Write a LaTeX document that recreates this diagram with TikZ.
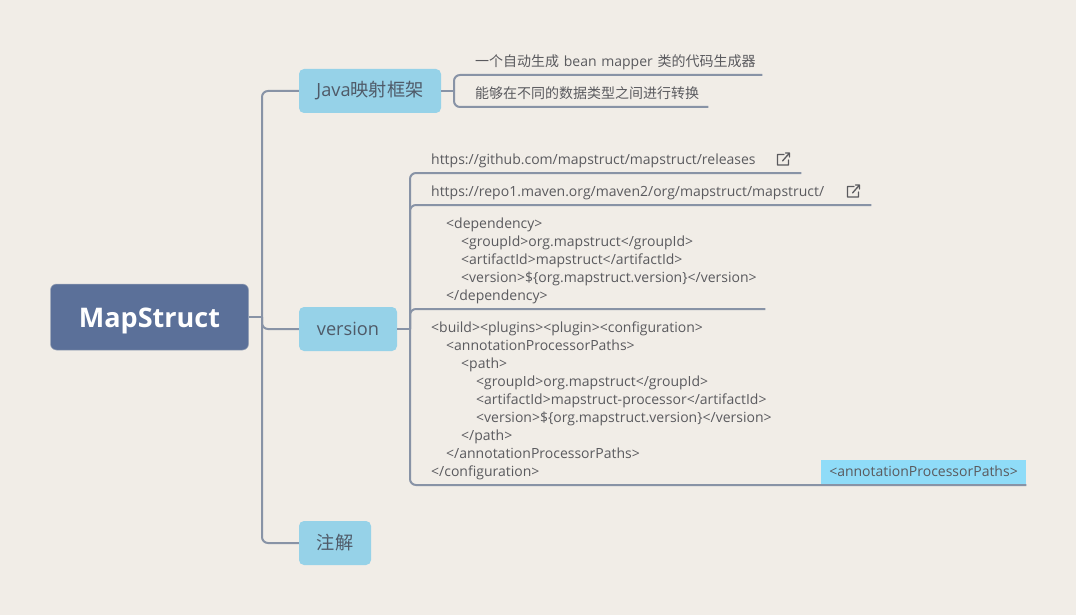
\documentclass[tikz,border=0pt]{standalone}
\usepackage{fontspec}
\setmainfont{Open Sans}
\newfontfamily\cjk{Noto Sans CJK SC}
\definecolor{bgc}{HTML}{F1EDE7}
\definecolor{rootc}{HTML}{5B7099}
\definecolor{rootb}{HTML}{9AA5B8}
\definecolor{connc}{HTML}{8893A6}
\definecolor{topicc}{HTML}{96D2E8}
\definecolor{txtc}{HTML}{4F5A68}
\definecolor{leafc}{HTML}{5A5A5E}
\definecolor{hlc}{HTML}{8FDCF8}
\tikzset{
  conn/.style={draw=connc,line width=2pt,rounded corners=6pt},
  topic/.style={fill=topicc,rounded corners=5pt,inner sep=0pt,text=txtc,font=\fontsize{18.2}{20}\selectfont},
  leaf/.style={anchor=south west,inner xsep=0pt,inner ysep=3.2pt,align=left,text=leafc,font=\fontsize{14}{18}\selectfont},
  extlink/.pic={\draw[leafc,line width=1.3pt,line cap=round,line join=round] (0.5,-4.5) -- (-6,-4.5) -- (-6,6) -- (5,6) -- (5,1) (-1,2) -- (6,-6) (2,-6) -- (6,-6) -- (6,-2);}
}
\begin{document}
\begin{tikzpicture}[x=1pt,y=-1pt]
\useasboundingbox[fill=bgc] (0,0) rectangle (1076,615);
% main nodes
\node[fill=rootc,draw=rootb,line width=0.5pt,rounded corners=6pt,minimum width=198pt,minimum height=66pt,inner sep=0pt,text height=20pt,text depth=0pt,text=white,font=\fontsize{27}{30}\selectfont\bfseries] (root) at (149.5,317) {MapStruct};
\node[topic,minimum width=142pt,minimum height=44pt] (java) at (370,91) {Java{\cjk 映射框架}};
\node[topic,minimum width=98pt,minimum height=44pt] (version) at (348,329) {version};
\node[topic,minimum width=72pt,minimum height=44pt] (anno) at (335,543) {\cjk 注解};
% junctions
\coordinate (tr) at (262,317);
\coordinate (jj) at (454,91);
\coordinate (vj) at (410,329);
% leaves: the south east corner carries the underline
\node[leaf,text width=287pt] (a1) at (475,75) {{\cjk 一个自动生成} bean mapper {\cjk 类的代码生成器}\strut};
\node[leaf,text width=233pt] (a2) at (475,107) {\cjk 能够在不同的数据类型之间进行转换\strut};
\node[leaf,text width=370pt] (b1) at (431,173) {https://github.com/mapstruct/mapstruct/releases\strut};
\node[leaf,text width=440pt] (b2) at (431,205) {https://repo1.maven.org/maven2/org/mapstruct/mapstruct/\strut};
\node[leaf,text width=334pt] (b3) at (431,309) {\hspace*{15pt}<dependency>\\
\hspace*{30pt}<groupId>org.mapstruct</groupId>\\
\hspace*{30pt}<artifactId>mapstruct</artifactId>\\
\hspace*{30pt}<version>\$\{org.mapstruct.version\}</version>\\
\hspace*{15pt}</dependency>\strut};
\node[leaf,text width=595pt] (b4) at (431,485) {<build><plugins><plugin><configuration>\\
\hspace*{15pt}<annotationProcessorPaths>\\
\hspace*{30pt}<path>\\
\hspace*{45pt}<groupId>org.mapstruct</groupId>\\
\hspace*{45pt}<artifactId>mapstruct-processor</artifactId>\\
\hspace*{45pt}<version>\$\{org.mapstruct.version\}</version>\\
\hspace*{30pt}</path>\\
\hspace*{15pt}</annotationProcessorPaths>\\
</configuration>\strut};
\node[fill=hlc,inner sep=0pt,minimum width=205pt,minimum height=24pt,text height=11pt,text depth=2pt,text=leafc,font=\fontsize{14}{18}\selectfont] (tag) at (923.5,472) {<annotationProcessorPaths>};
% connectors
\draw[conn] (root.east) -- (tr);
\draw[conn] (tr) |- (java.west);
\draw[conn] (tr) |- (version.west);
\draw[conn] (tr) |- (anno.west);
\draw[conn] (java.east) -- (jj);
\draw[conn] (jj) |- (a1.south east);
\draw[conn] (jj) |- (a2.south east);
\draw[conn] (version.east) -- (vj);
\draw[conn] (vj) |- (b1.south east);
\draw[conn] (vj) |- (b2.south east);
\draw[conn] (vj) |- (b3.south east);
\draw[conn] (vj) |- (b4.south east);
% link icons
\pic at (783.5,159) {extlink};
\pic at (853.5,191) {extlink};
\end{tikzpicture}
\end{document}
